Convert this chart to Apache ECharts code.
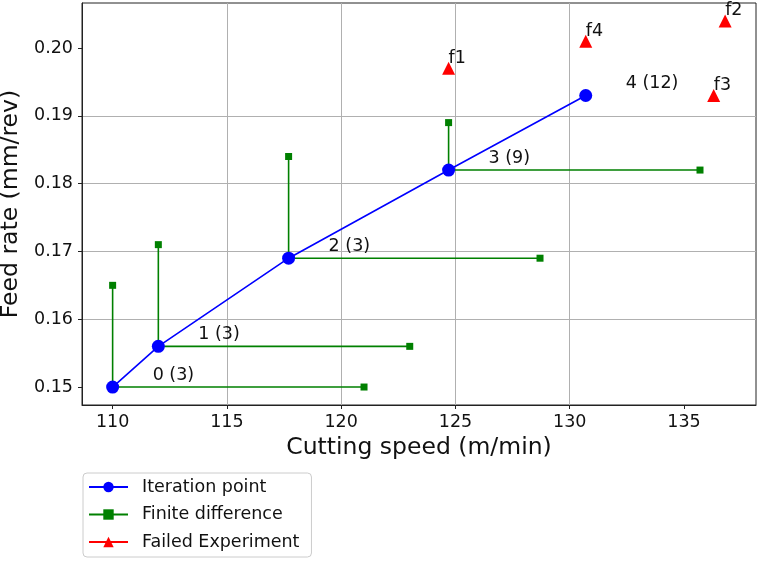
<!DOCTYPE html>
<html><head><meta charset="utf-8">
<script src="https://cdn.jsdelivr.net/npm/echarts@6/dist/echarts.min.js"></script>
<style>html,body{margin:0;padding:0;background:#fff}#c{width:762px;height:561px}</style>
</head><body><div id="c"></div>
<script>
const iterX = [110, 112, 117.7, 124.7, 130.7];
const iterY = [0.150, 0.156, 0.169, 0.182, 0.193];
const iterLabels = ['0 (3)', '1 (3)', '2 (3)', '3 (9)', '4 (12)'];
const fdTopY = [0.165, 0.171, 0.184, 0.189];
const fdRightX = [121.0, 123.0, 128.7, 135.7];
const failedX = [124.7, 136.8, 136.3, 130.7];
const failedY = [0.197, 0.204, 0.193, 0.201];
const failedLabels = ['f1', 'f2', 'f3', 'f4'];
const xTicks = [110, 115, 120, 125, 130, 135];
const yTicks = [0.15, 0.16, 0.17, 0.18, 0.19, 0.20];

const FONT = 'DejaVu Sans';
const FS = 17.5;
const series = [];
for (let i = 0; i < fdTopY.length; i++) {
  series.push({
    name: 'Finite difference', type: 'line', z: 2,
    data: [[iterX[i], fdTopY[i]], [iterX[i], iterY[i]], [fdRightX[i], iterY[i]]],
    symbol: 'rect', symbolSize: 7, showAllSymbol: true,
    lineStyle: {color: '#008000', width: 1.6}, itemStyle: {color: '#008000'},
    emphasis: {disabled: true}, silent: true
  });
}
series.push({
  name: 'Iteration point', type: 'line', z: 3,
  data: iterX.map((x, i) => [x, iterY[i]]),
  symbol: 'circle', symbolSize: 13, showAllSymbol: true,
  lineStyle: {color: '#0000ff', width: 1.6}, itemStyle: {color: '#0000ff'},
  label: {show: true, position: 'inside', align: 'left', verticalAlign: 'middle', offset: [40, -12],
    formatter: p => iterLabels[p.dataIndex], fontFamily: FONT, fontSize: FS, color: '#111'},
  emphasis: {disabled: true}, silent: true
});
for (let i = 0; i < failedX.length; i++) {
  series.push({
    name: 'Failed Experiment', type: 'line', z: 4,
    data: [[failedX[i], failedY[i]]],
    symbol: 'triangle', symbolSize: 13, showAllSymbol: true,
    lineStyle: {color: '#ff0000', width: 1.6}, itemStyle: {color: '#ff0000'},
    label: {show: true, position: 'inside', align: 'left', verticalAlign: 'middle', offset: [0, -10],
      formatter: () => failedLabels[i], fontFamily: FONT, fontSize: FS, color: '#111'},
    emphasis: {disabled: true}, silent: true
  });
}

const chart = echarts.init(document.getElementById('c'), null, {renderer: 'canvas'});
chart.setOption({
  animation: false,
  backgroundColor: '#fff',
  grid: {left: 82, top: 3, right: 6, bottom: 156, show: true, borderColor: '#222', borderWidth: 1,
    containLabel: false, outerBoundsMode: 'none'},
  xAxis: {
    type: 'value', min: 108.66, max: 138.15, minInterval: 5, maxInterval: 5,
    name: 'Cutting speed (m/min)', nameLocation: 'middle', nameGap: 31,
    nameTextStyle: {fontFamily: FONT, fontSize: 23.5, color: '#111'},
    axisLine: {show: true, lineStyle: {color: '#222', width: 1}},
    axisTick: {show: true, length: 4, lineStyle: {color: '#222'}, customValues: xTicks},
    axisLabel: {fontFamily: FONT, fontSize: FS, color: '#111', margin: 8, customValues: xTicks,
      formatter: v => String(Math.round(v))},
    splitLine: {show: true, showMinLine: false, showMaxLine: false, lineStyle: {color: '#b0b0b0', width: 1}}
  },
  yAxis: {
    type: 'value', min: 0.14735, max: 0.20664, minInterval: 0.01, maxInterval: 0.01,
    name: 'Feed rate (mm/rev)', nameLocation: 'middle', nameGap: 53,
    nameTextStyle: {fontFamily: FONT, fontSize: 23.5, color: '#111'},
    axisLine: {show: true, lineStyle: {color: '#222', width: 1}},
    axisTick: {show: true, length: 4, lineStyle: {color: '#222'}, customValues: yTicks},
    axisLabel: {fontFamily: FONT, fontSize: FS, color: '#111', margin: 9, customValues: yTicks,
      formatter: v => v.toFixed(2)},
    splitLine: {show: true, showMinLine: false, showMaxLine: false, lineStyle: {color: '#b0b0b0', width: 1}}
  },
  legend: {
    orient: 'vertical', left: 83, top: 473,
    data: ['Iteration point', 'Finite difference', 'Failed Experiment'],
    itemWidth: 39, itemHeight: 13, itemGap: 9.5,
    padding: [5, 12, 6, 5],
    borderColor: '#cccccc', borderWidth: 1, borderRadius: 4, backgroundColor: '#fff',
    textStyle: {fontFamily: FONT, fontSize: FS, color: '#111', padding: [0, 0, 0, 9], lineHeight: 18},
    selectedMode: false
  },
  series: series
});
</script></body></html>
